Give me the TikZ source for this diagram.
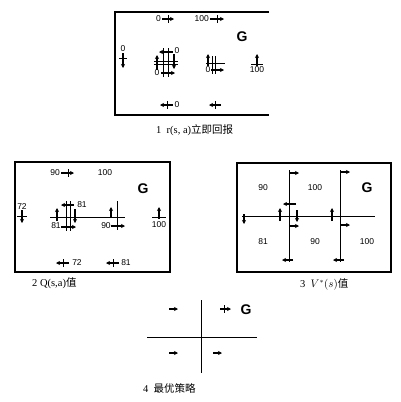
\documentclass[tikz,border=0pt]{standalone}
\usepackage{fontspec}
\setmainfont{Liberation Serif}
\newfontfamily\hel{Liberation Sans}
\newfontfamily\cjk{Noto Sans CJK SC}
\usetikzlibrary{arrows.meta}
\tikzset{
  act/.style={-{Stealth[length=4pt,width=4pt]}, line width=1.1pt},
  bar/.style={line width=1pt},
  frame/.style={line width=1.2pt},
  num/.style={font=\hel\fontsize{8.5}{9}\selectfont, inner sep=0pt},
  goal/.style={font=\hel\bfseries\fontsize{14}{15}\selectfont, inner sep=0pt},
  capt/.style={font=\fontsize{10.5}{12}\selectfont, inner sep=0pt, anchor=west}
}
\begin{document}
\begin{tikzpicture}[x=1pt,y=-1pt]
\useasboundingbox (0,0) rectangle (400,402);

% Panel 1: immediate reward
\draw[frame] (269,12) -- (115,12) -- (115,115) -- (269,115);
\node[goal] (goalA) at (242,37) {G};
% top row
\node[num,anchor=east] (rTopA) at (161,19) {0};
\draw[act] (162,19) -- (174,19);
\draw[bar] (168,15) -- (168,23);
\node[num,anchor=east] (rTopB) at (209,19) {100};
\draw[act] (210,19) -- (224,19);
\draw[bar] (217,15) -- (217,23);
% left state
\node[num] (rLeft) at (123,49) {0};
\draw[act] (123,53) -- (123,68);
\draw[bar] (119,58) -- (127,58);
% middle states
\draw[bar] (163,48) -- (163,77);
\draw[bar] (168,48) -- (168,77);
\draw[bar] (154,61) -- (178,61);
\draw[bar] (154,64) -- (178,64);
\draw[act] (173,52) -- (159,52);
\node[num] (rMidA) at (177,51) {0};
\draw[act] (157,70) -- (157,55);
\draw[act] (174,54) -- (174,69);
\node[num] (rMidB) at (157,73) {0};
\draw[act] (161,73) -- (175,73);
\draw[bar] (212,56) -- (212,74);
\draw[bar] (215,56) -- (215,74);
\draw[bar] (206,63) -- (225,63);
\draw[act] (208,66) -- (208,54);
\node[num] (rMidC) at (208,70) {0};
\draw[act] (211,70) -- (224,70);
% right state
\draw[act] (257,66) -- (257,54);
\draw[bar] (251,64) -- (263,64);
\node[num] (rRight) at (257,70) {100};
% bottom row
\draw[act] (173,105) -- (160,105);
\draw[bar] (167,101) -- (167,109);
\node[num] (rBot) at (177,105) {0};
\draw[act] (221,105) -- (209,105);
\draw[bar] (215,101) -- (215,109);
\node[capt] (capA) at (156,130) {1\ \ r(s,\ a)\cjk 立即回报};

% Panel 2: Q(s,a) values
\draw[frame] (15,162) rectangle (170,272);
\node[goal] (goalB) at (143,189) {G};
\node[num,anchor=east] (qTopA) at (60,173) {90};
\draw[act] (61,173) -- (74,173);
\draw[bar] (68,169) -- (68,177);
\node[num] (qTopB) at (105,173) {100};
\node[num] (qLeft) at (22,207) {72};
\draw[act] (22,210) -- (22,223);
\draw[bar] (17,216) -- (27,216);
% grid lines through the middle
\draw[bar] (50,217) -- (125,217);
\draw[bar] (66,201) -- (66,231);
\draw[bar] (70,201) -- (70,231);
\draw[bar] (117,201) -- (117,230);
\draw[act] (74,205) -- (61,205);
\node[num] (qMidA) at (82,205) {81};
\draw[act] (57,221) -- (57,208);
\draw[act] (75,209) -- (75,223);
\node[num] (qMidB) at (56,226) {81};
\draw[act] (61,227) -- (76,227);
\node[num] (qMidC) at (106,226) {90};
\draw[act] (111,226) -- (125,226);
\draw[act] (111,218) -- (111,207);
% right state
\draw[act] (159,219) -- (159,207);
\draw[bar] (152,217) -- (166,217);
\node[num] (qRight) at (159,225) {100};
% bottom row
\draw[act] (69,263) -- (56,263);
\draw[bar] (63,259) -- (63,267);
\node[num] (qBotA) at (77,263) {72};
\draw[act] (119,263) -- (106,263);
\draw[bar] (113,259) -- (113,267);
\node[num] (qBotB) at (126,263) {81};
\node[capt] (capB) at (32,283) {2 Q(s,a)\cjk 值};

% Panel 3: V*(s) values
\draw[frame] (237,163) rectangle (391,272);
\draw[bar] (242,216) -- (375,216);
\draw[bar] (289,170) -- (289,262);
\draw[bar] (340,170) -- (340,262);
\node[num] (vA) at (263,188) {90};
\node[num] (vB) at (315,188) {100};
\node[goal] (goalC) at (367,188) {G};
\node[num] (vC) at (263,242) {81};
\node[num] (vD) at (315,242) {90};
\node[num] (vE) at (367,242) {100};
\draw[act] (289,173) -- (299,173);
\draw[act] (340,172) -- (350,172);
\draw[act] (296,204) -- (283,204);
\draw[act] (244,214) -- (244,224);
\draw[act] (280,221) -- (280,208);
\draw[act] (297,210) -- (297,222);
\draw[act] (332,221) -- (332,208);
\draw[act] (289,226) -- (299,226);
\draw[act] (340,225) -- (350,225);
\draw[act] (293,260) -- (282,260);
\draw[act] (344,260) -- (333,260);
\node[capt] (capC) at (300,284) {3\ \ $V^{*}(s)$\cjk 值};

% Panel 4: optimal policy
\draw[bar] (201,300) -- (201,373);
\draw[bar] (147,337) -- (257,337);
\draw[act] (169,309) -- (178,309);
\draw[act] (220,309) -- (231,309);
\draw[bar] (224,305) -- (224,313);
\node[goal] (goalD) at (246,310) {G};
\draw[act] (169,353) -- (178,353);
\draw[act] (213,353) -- (222,353);
\node[capt] (capD) at (143,388) {4\ \ \cjk 最优策略};
\end{tikzpicture}
\end{document}
